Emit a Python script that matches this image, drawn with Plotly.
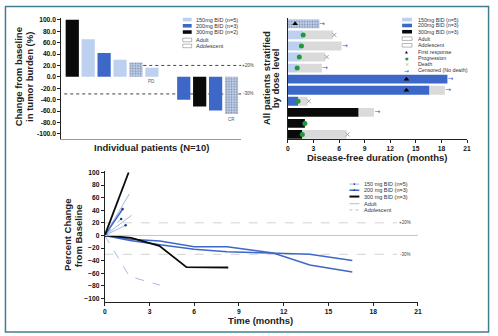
import plotly.graph_objects as go

W, H = 498, 336
def fx(p): return p / W
def fy(p): return 1 - p / H

FONT = "Liberation Sans, Arial, sans-serif"
C150 = "#bdd0ef"; C200 = "#3e68c8"; C300 = "#0a0a0a"
C150_LINE = "#9fb9e8"; MARK = "#243a78"
GRAY_EXT = "#dadada"; GREEN = "#1f9a3a"; ARROWC = "#4a50d8"; DEATHC = "#a0a0a0"
dose_color = {"150": C150, "200": C200, "300": C300}

# ---------------- Waterfall data ----------------
wf_patients = ["P1", "P2", "P3", "P4", "P5", "P6", "gap", "P7", "P8", "P9", "P10"]
wf_change = [100, 66, 42, 30, 25, 16, None, -40, -52, -59, -65]
wf_dose = ["300", "150", "200", "150", "150", "150", "150", "200", "300", "200", "150"]
wf_adolescent = [0, 0, 0, 0, 1, 0, 0, 0, 0, 0, 1]
wf_ticks = [100, 80, 60, 40, 20, 0, -20, -40, -60, -80, -100]
wf_tick_text = ["100.0", "80.0", "60.0", "40.0", "20.0", "0.0", "-20.0", "-40.0", "-60.0", "-80.0", "-100.0"]
wf_note_patients = ["P6", "P10"]
wf_note_text = ["PD", "CR"]
wf_note_y = [-9, -74]

# ---------------- Swimmer data ----------------
sw_rows = ["S1", "S2", "S3", "S4", "S5", "S6", "S7", "S8", "S9", "S10", "S11"]
sw_dose = ["150", "150", "150", "150", "150", "200", "200", "200", "300", "300", "300"]
sw_adolescent = [1, 0, 0, 0, 0, 0, 0, 0, 0, 0, 0]
sw_dose_end = [3.7, 1.8, 1.6, 1.4, 1.1, 18.7, 16.6, 1.2, 8.3, 2.0, 1.7]
sw_total = [3.7, 5.3, 6.3, 4.4, 4.0, 18.7, 18.4, 2.3, 10.1, 2.0, 6.9]
resp_rows = ["S1", "S6", "S7"]
resp_t = [0.85, 13.9, 13.9]
prog_rows = ["S2", "S3", "S4", "S5", "S8", "S10", "S11"]
prog_t = [1.8, 1.6, 1.35, 1.1, 1.2, 2.0, 1.7]
death_rows = ["S2", "S4", "S8", "S11"]
death_t = [5.45, 4.55, 2.45, 7.0]
cens_rows = ["S1", "S3", "S5", "S6", "S7", "S9"]
cens_t = [4.0, 6.7, 4.35, 19.05, 18.8, 10.5]
sw_ticks = [0, 3, 6, 9, 12, 15, 18, 21]

# ---------------- Spider data ----------------
sp300a_t = [0, 1.6];                        sp300a_v = [0, 100]
sp300b_t = [0, 1.77, 3.66, 5.48, 8.28];     sp300b_v = [0, -4, -16.5, -50.5, -51]
sp200a_t = [0, 1.2];                        sp200a_v = [0, 42]
sp200b_t = [0, 1.7, 3.7, 6.0, 8.2, 11.3, 13.75, 16.6]; sp200b_v = [0, -6, -9, -18, -18, -28, -47, -58]
sp200c_t = [0, 1.7, 3.7, 6.0, 8.2, 11.3, 13.75, 16.6]; sp200c_v = [0, -8, -15, -22, -26, -28, -30, -40]
sp150a_t = [0, 1.65];                       sp150a_v = [0, 66]
sp150b_t = [0, 1.8];                        sp150b_v = [0, 32]
sp150c_t = [0, 1.1];                        sp150c_v = [0, 26]     # adolescent
sp150d_t = [0, 1.4];                        sp150d_v = [0, 16]
sp150e_t = [0, 1.65, 3.7];                  sp150e_v = [0, -65, -79]  # adolescent
sp_ticks_y = [100, 80, 60, 40, 20, 0, -20, -40, -60, -80, -100]
sp_ticks_x = [0, 3, 6, 9, 12, 15, 18, 21]

fig = go.Figure()

pattern_common = dict(fillmode="overlay", fgcolor="#97afdc", size=2.6, solidity=0.3)

# ---- waterfall bars
fig.add_trace(go.Bar(
    x=wf_patients, y=wf_change, xaxis="x4", yaxis="y4", width=0.83,
    marker=dict(color=[dose_color[d] for d in wf_dose], line=dict(width=0),
                pattern=dict(shape=["." if a else "" for a in wf_adolescent], **pattern_common)),
    showlegend=False, hoverinfo="skip"))

# ---- swimmer bars
fig.add_trace(go.Bar(
    y=sw_rows, x=sw_dose_end, base=[0] * len(sw_rows), orientation="h", xaxis="x2", yaxis="y2",
    width=0.8,
    marker=dict(color=[dose_color[d] for d in sw_dose], line=dict(width=0),
                pattern=dict(shape=["." if a else "" for a in sw_adolescent], **pattern_common)),
    showlegend=False, hoverinfo="skip"))
fig.add_trace(go.Bar(
    y=sw_rows, x=[t - d for t, d in zip(sw_total, sw_dose_end)], base=sw_dose_end,
    orientation="h", xaxis="x2", yaxis="y2", width=0.8,
    marker=dict(color=GRAY_EXT, line=dict(width=0)), showlegend=False, hoverinfo="skip"))
fig.add_trace(go.Scatter(
    x=resp_t, y=resp_rows, mode="markers", xaxis="x2", yaxis="y2",
    marker=dict(symbol="triangle-up", size=5, color="#000"), showlegend=False, hoverinfo="skip"))
fig.add_trace(go.Scatter(
    x=prog_t, y=prog_rows, mode="markers", xaxis="x2", yaxis="y2",
    marker=dict(symbol="circle", size=5, color=GREEN), showlegend=False, hoverinfo="skip"))
fig.add_trace(go.Scatter(
    x=death_t, y=death_rows, mode="markers", xaxis="x2", yaxis="y2",
    marker=dict(symbol="x-thin", size=4, line=dict(color=DEATHC, width=1)),
    showlegend=False, hoverinfo="skip"))
fig.add_trace(go.Scatter(
    x=cens_t, y=cens_rows, mode="text", text=["→"] * len(cens_rows), xaxis="x2", yaxis="y2",
    textfont=dict(family="DejaVu Sans", size=7, color=ARROWC), showlegend=False, hoverinfo="skip"))

# ---- spider lines
def sp_line(t, v, color, width, dash="solid", marker=False):
    fig.add_trace(go.Scatter(
        x=t, y=v, xaxis="x3", yaxis="y3",
        mode="lines+markers" if marker else "lines",
        line=dict(color=color, width=width, dash=dash),
        marker=dict(size=2.5, color=MARK),
        showlegend=False, hoverinfo="skip"))

sp_line(sp150e_t, sp150e_v, "#a9bde0", 1, "dash")
sp_line(sp150a_t, sp150a_v, C150_LINE, 1)
sp_line(sp150b_t, sp150b_v, C150_LINE, 1)
sp_line(sp150c_t, sp150c_v, C150_LINE, 1, "dash", True)
sp_line(sp150d_t, sp150d_v, C150_LINE, 1, "solid", True)
sp_line(sp200b_t, sp200b_v, C200, 1.5)
sp_line(sp200c_t, sp200c_v, C200, 1.5)
sp_line(sp200a_t, sp200a_v, C200, 1.5, "solid", True)
sp_line(sp300b_t, sp300b_v, C300, 1.8)
sp_line(sp300a_t, sp300a_v, C300, 1.8)

tickfont = dict(family=FONT, size=6.7, color="#111", weight="bold")
axcommon = dict(showgrid=False, zeroline=False, showline=True, linecolor="#222", linewidth=1,
                tickfont=tickfont, ticklen=3, tickwidth=1, tickcolor="#222")

shapes = []
ann = []

def text(x, y, s, size=5.5, color="#333", xanchor="left", bold=False, angle=0, family=FONT):
    ann.append(dict(x=fx(x), y=fy(y), xref="paper", yref="paper", text=s, showarrow=False,
                    xanchor=xanchor, yanchor="middle", textangle=angle,
                    font=dict(family=family, size=size, color=color,
                              weight="bold" if bold else "normal")))

# waterfall PD / CR notes (placed through the waterfall axes)
for p, s, yv in zip(wf_note_patients, wf_note_text, wf_note_y):
    ann.append(dict(x=p, y=yv, xref="x4", yref="y4", text=s, showarrow=False,
                    xanchor="center", yanchor="middle",
                    font=dict(family=FONT, size=4.5, color="#555")))

# waterfall reference lines (y in data units)
shapes.append(dict(type="line", xref="paper", yref="y4", x0=fx(143), x1=fx(242), y0=20, y1=20,
                   line=dict(color="#444", width=1, dash="dot"), layer="below"))
shapes.append(dict(type="line", xref="paper", yref="y4", x0=fx(63), x1=fx(242), y0=-30, y1=-30,
                   line=dict(color="#444", width=1, dash="dot"), layer="below"))
text(249, 63, "+20%", size=4.5, xanchor="center", color="#444")
text(249, 91.7, "-30%", size=4.5, xanchor="center", color="#444")

# spider reference lines
shapes.append(dict(type="line", xref="x3", yref="y3", x0=0, x1=21, y0=0, y1=0,
                   line=dict(color="#c4c4c4", width=1)))
for yv in (20, -30):
    shapes.append(dict(type="line", xref="x3", yref="y3", x0=0, x1=19.6, y0=yv, y1=yv,
                       line=dict(color="#d2d2d2", width=1, dash="dash"), layer="below"))
text(408, 221.7, "+20%", size=4.5, xanchor="center", color="#444")
text(408, 253.3, "-30%", size=4.5, xanchor="center", color="#444")

# axis titles
text(151, 146, "Individual patients (N=10)", size=9.5, xanchor="center", bold=True, color="#222")
text(380, 156, "Disease-free duration (months)", size=9.5, xanchor="center", bold=True, color="#222")
text(262, 320, "Time (months)", size=9.5, xanchor="center", bold=True, color="#222")
text(16.7, 74.5, "Change from baseline", size=9.5, xanchor="center", bold=True, angle=-90, color="#222")
text(28.4, 74.5, "in tumor burden (%)", size=9.5, xanchor="center", bold=True, angle=-90, color="#222")
text(268, 76, "All patients stratified", size=9.5, xanchor="center", bold=True, angle=-90, color="#222")
text(276.3, 76, "by dose level", size=9.5, xanchor="center", bold=True, angle=-90, color="#222")
text(66.3, 234.5, "Percent Change", size=9.5, xanchor="center", bold=True, angle=-90, color="#222")
text(77.8, 234.5, "from Baseline", size=9.5, xanchor="center", bold=True, angle=-90, color="#222")

def swatch(x0, x1, yc, h, fill, line=None):
    shapes.append(dict(type="rect", xref="paper", yref="paper", x0=fx(x0), x1=fx(x1),
                       y0=fy(yc + h / 2), y1=fy(yc - h / 2), fillcolor=fill,
                       line=dict(color=line or fill, width=0.6 if line else 0)))

# waterfall legend
wl_labels = ["150mg BID (n=5)", "200mg BID (n=3)", "300mg BID (n=2)", "Adult", "Adolescent"]
wl_y = [16.7, 23, 29.3, 37.3, 43.3]
for lab, yy, fill in zip(wl_labels, wl_y, [C150, C200, C300, None, None]):
    if fill:
        swatch(183, 192, yy, 3.6, fill)
    else:
        swatch(183, 192, yy, 3.6, "white", "#888")
    text(194.5, yy, lab, size=5.5)

# swimmer legend
sl_labels = ["150mg BID (n=5)", "200mg BID (n=3)", "300mg BID (n=3)", "Adult", "Adolescent"]
sl_y = [16.7, 22.7, 29, 36, 42.7]
for lab, yy, fill in zip(sl_labels, sl_y, [C150, C200, C300, None, None]):
    if fill:
        swatch(405, 415, yy, 3.6, fill)
    else:
        swatch(405, 415, yy, 3.6, "white", "#888")
    text(419, yy, lab, size=5.3)
sm_labels = ["First response", "Progression", "Death", "Censored (No death)"]
sm_y = [49.3, 55.5, 61.7, 68]
sm_sym = ["▲", "●", "×", "→"]
sm_col = ["#000", GREEN, DEATHC, ARROWC]
sm_size = [3.5, 4, 5, 6]
for lab, yy, s, c, sz in zip(sm_labels, sm_y, sm_sym, sm_col, sm_size):
    text(409.5, yy, s, size=sz, color=c, xanchor="center", family="DejaVu Sans")
    text(419, yy, lab, size=5.3)

# spider legend
pl_labels = ["150 mg BID (n=5)", "200 mg BID (n=3)", "300 mg BID (n=3)", "Adult", "Adolescent"]
pl_y = [182.7, 188.9, 195.3, 202.5, 208.8]
pl_col = [C150_LINE, C200, C300, "#bdbdbd", "#bdbdbd"]
pl_w = [1, 1.5, 2, 1, 1]
pl_dash = ["solid", "solid", "solid", "solid", "dot"]
for lab, yy, c, w, d in zip(pl_labels, pl_y, pl_col, pl_w, pl_dash):
    shapes.append(dict(type="line", xref="paper", yref="paper", x0=fx(351.7), x1=fx(361.7),
                       y0=fy(yy), y1=fy(yy), line=dict(color=c, width=w, dash=d)))
    text(364.3, yy, lab, size=5.5)
for yy in pl_y[:2]:
    shapes.append(dict(type="circle", xref="paper", yref="paper", x0=fx(355.8), x1=fx(357.6),
                       y0=fy(yy + 0.9), y1=fy(yy - 0.9), fillcolor=MARK, line=dict(width=0)))

# outer frame
shapes.append(dict(type="rect", xref="paper", yref="paper", x0=fx(3.5), x1=fx(492.5),
                   y0=fy(332), y1=fy(3.5), fillcolor="rgba(0,0,0,0)",
                   line=dict(color="#3f7d93", width=1.5)))

fig.update_layout(
    width=W, height=H, margin=dict(l=0, r=0, t=0, b=0),
    paper_bgcolor="white", plot_bgcolor="white", barmode="overlay", showlegend=False,
    font=dict(family=FONT),
    xaxis4=dict(domain=[fx(60), fx(242)], anchor="y4", type="category",
                categoryorder="array", categoryarray=wf_patients, range=[-0.69, 10.6],
                showticklabels=False, ticks="", showgrid=False, zeroline=False,
                showline=True, linecolor="#999", linewidth=1),
    yaxis4=dict(domain=[fy(137), fy(15)], anchor="x4", range=[-108.7, 103.5],
                tickmode="array", tickvals=wf_ticks, ticktext=wf_tick_text,
                ticks="outside", **axcommon),
    xaxis2=dict(domain=[fx(289.3), fx(470.7)], anchor="y2", range=[0, 21],
                tickvals=sw_ticks, ticks="outside", **axcommon),
    yaxis2=dict(domain=[fy(137), fy(15)], anchor="x2", type="category",
                categoryorder="array", categoryarray=sw_rows, range=[10.39, -0.54],
                showticklabels=False, ticks="", showgrid=False, zeroline=False,
                showline=True, linecolor="#222", linewidth=1),
    xaxis3=dict(domain=[fx(104), fx(421)], anchor="y3", range=[0, 21],
                tickvals=sp_ticks_x, ticks="outside", **axcommon),
    yaxis3=dict(domain=[fy(301.7), fy(170)], anchor="x3", range=[-105.8, 101.6],
                tickvals=sp_ticks_y, ticks="outside", **axcommon),
    shapes=shapes, annotations=ann,
)

fig.write_html("out.html")
